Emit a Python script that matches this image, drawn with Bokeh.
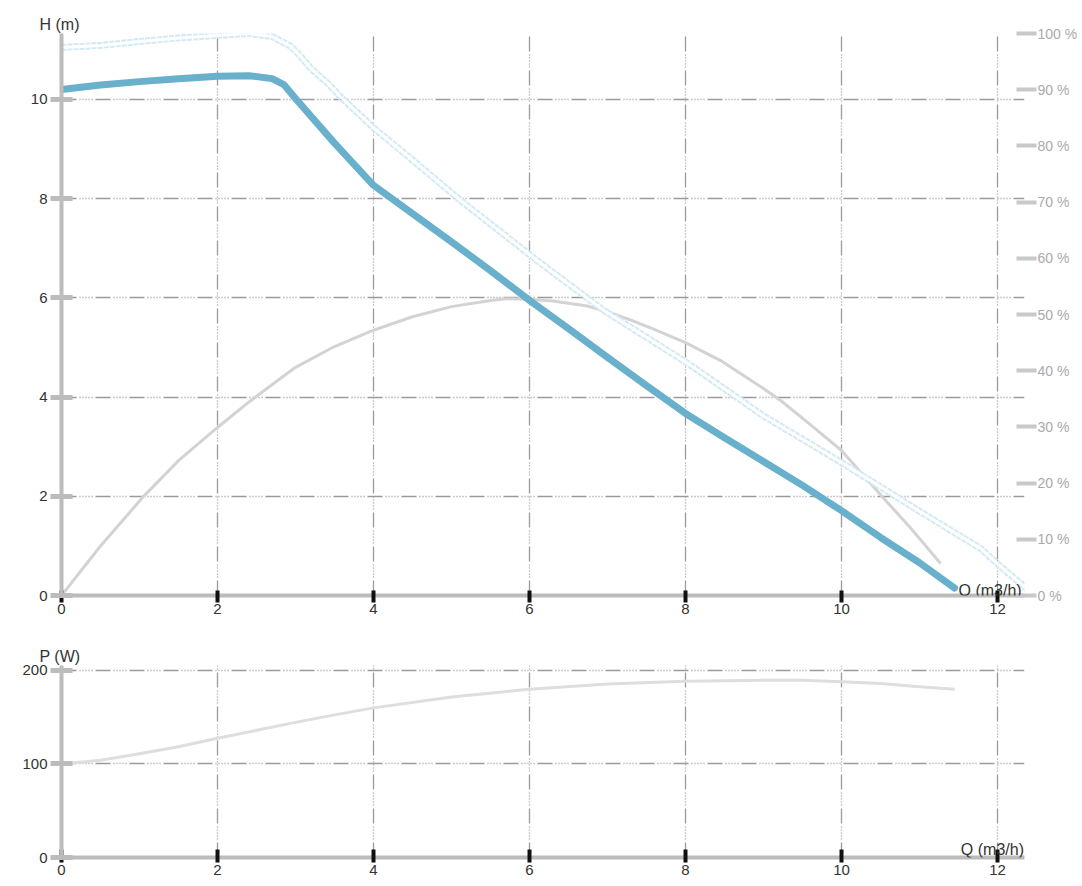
from bokeh.plotting import figure
from bokeh.models import Range1d, LinearAxis, Label, FixedTicker, Title
from bokeh.layouts import column
from bokeh.embed import file_html
from bokeh.resources import INLINE

# ---------------- data ----------------
q_ticks = [0, 2, 4, 6, 8, 10, 12]
h_ticks = [0, 2, 4, 6, 8, 10]
eta_ticks = [0, 10, 20, 30, 40, 50, 60, 70, 80, 90, 100]
eta_tick_labels = ["0 %", "10 %", "20 %", "30 %", "40 %", "50 %", "60 %", "70 %", "80 %", "90 %", "100 %"]
p_ticks = [0, 100, 200]

# pump head curve (blue)
q_head = [0, 0.5, 1, 1.5, 2, 2.4, 2.7, 2.85, 3.0, 3.5, 4, 4.5, 5, 5.5, 6, 6.5, 7,
          7.5, 8, 8.5, 9, 9.5, 10, 10.5, 11, 11.45]
h_head = [10.2, 10.29, 10.36, 10.42, 10.47, 10.48, 10.42, 10.3, 10.02, 9.12, 8.27, 7.7,
          7.13, 6.55, 5.95, 5.38, 4.8, 4.23, 3.67, 3.18, 2.7, 2.22, 1.71, 1.17, 0.66, 0.15]

# max-speed head curve (dotted light blue)
q_max = [0, 0.5, 1, 1.5, 2, 2.4, 2.7, 2.94, 3.06, 3.2, 3.41, 3.58, 4, 4.5, 5.12,
         6.1, 6.95, 8.03, 9, 10, 11, 11.78, 12.1, 12.42]
h_max = [11.05, 11.09, 11.17, 11.24, 11.29, 11.33, 11.27, 11.07, 10.88, 10.62, 10.33,
         10.05, 9.43, 8.78, 7.96, 6.75, 5.75, 4.68, 3.62, 2.68, 1.7, 0.95, 0.5, 0.08]

# efficiency curve (grey, %)
q_eta = [0, 0.5, 1.05, 1.5, 2, 2.4, 3, 3.5, 4, 4.5, 5, 5.5, 5.7, 6, 6.3, 6.74, 7.0,
         7.3, 7.59, 8, 8.45, 8.96, 9.22, 9.6, 10, 10.54, 10.88, 11.27]
eta = [0, 8.8, 17.6, 24.0, 29.9, 34.4, 40.6, 44.3, 47.2, 49.6, 51.4, 52.5, 52.8, 52.7,
       52.4, 51.5, 50.5, 49.0, 47.4, 45.0, 41.8, 37.2, 34.7, 30.4, 25.8, 17.3, 12.1, 5.7]

# power curve (grey, W)
q_pow = [0, 0.5, 1, 1.5, 2, 2.5, 3, 3.5, 4, 5, 6, 7, 8, 9, 9.5, 10, 10.5, 11, 11.45]
power = [100, 104, 111, 118.5, 127.5, 136, 144.5, 152.5, 160, 171.5, 180, 185.5, 188.5,
         189.5, 189.5, 188, 186, 182.5, 180]

# ---------------- styling helpers ----------------
FONT = "Liberation Sans"
TXT = "#333333"
AXIS_GREY = "#bcbcbc"
GRID_DASH = "15 3 1 2 1 2 1 2 1 2 1 3"

W = 1082
XR = (0, 12.346)


def style_common(p):
    p.outline_line_color = None
    p.background_fill_color = "white"
    p.border_fill_color = "white"
    for g in (p.xgrid, p.ygrid):
        g.grid_line_color = "#9a9a9a"
        g.grid_line_width = 1.3
        g.grid_line_dash = GRID_DASH
    p.xgrid.ticker = FixedTicker(ticks=q_ticks)
    xa = p.xaxis[0]
    xa.ticker = FixedTicker(ticks=q_ticks)
    xa.axis_line_color = AXIS_GREY
    xa.axis_line_width = 4
    xa.major_tick_line_color = "#111111"
    xa.major_tick_line_width = 4
    xa.minor_tick_line_color = None
    xa.major_label_text_font = FONT
    xa.major_label_text_font_size = "15px"
    xa.major_label_text_color = TXT
    ya = p.yaxis[0]
    ya.axis_line_color = AXIS_GREY
    ya.axis_line_width = 4
    ya.major_tick_line_color = AXIS_GREY
    ya.major_tick_line_width = 5
    ya.major_tick_in = 11
    ya.major_tick_out = 11
    ya.minor_tick_line_color = None
    ya.major_label_standoff = 3
    ya.major_label_text_font = FONT
    ya.major_label_text_font_size = "15px"
    ya.major_label_text_color = TXT


def corner_title(text):
    return Title(text=text, align="left", offset=-22, standoff=1,
                 text_font=FONT, text_font_size="16px", text_font_style="normal",
                 text_color=TXT)


# ---------------- top chart: H(Q) ----------------
p1 = figure(width=W, height=630, x_range=Range1d(*XR), y_range=Range1d(0, 11.33),
            output_backend="svg", toolbar_location=None,
            min_border_left=61, min_border_right=58, min_border_top=33, min_border_bottom=35)
p1.title = corner_title("H (m)")
p1.extra_y_ranges = {"eta": Range1d(0, 100)}
style_common(p1)
p1.yaxis[0].ticker = FixedTicker(ticks=h_ticks)
p1.ygrid.ticker = FixedTicker(ticks=h_ticks)
p1.xaxis[0].major_tick_in = 5
p1.xaxis[0].major_tick_out = 7
p1.xaxis[0].major_label_standoff = 1

ra = LinearAxis(y_range_name="eta", ticker=FixedTicker(ticks=eta_ticks),
                major_label_overrides={t: l for t, l in zip(eta_ticks, eta_tick_labels)})
ra.axis_line_color = None
ra.major_tick_line_color = "#c8c8c8"
ra.major_tick_line_width = 4
ra.major_tick_in = 8
ra.major_tick_out = 12
ra.minor_tick_line_color = None
ra.major_label_standoff = 1
ra.major_label_text_font = FONT
ra.major_label_text_font_size = "14px"
ra.major_label_text_color = "#aaaaaa"
p1.add_layout(ra, "right")

p1.line(q_eta, eta, y_range_name="eta", line_color="#d3d3d3", line_width=3,
        line_join="round")
p1.line(q_max, h_max, line_color="#d3eaf6", line_width=7, line_dash="5 1", line_join="round")
p1.line(q_max, h_max, line_color="#ffffff", line_width=3, line_join="round")
p1.line(q_head, h_head, line_color="#68b0cb", line_width=7, line_cap="round", line_join="round")

p1.add_layout(Label(x=11.5, y=0.1, text="Q (m3/h)", text_align="left", text_baseline="middle",
                    text_font=FONT, text_font_size="16px", text_color=TXT))

# ---------------- bottom chart: P(Q) ----------------
p2 = figure(width=W, height=256, x_range=Range1d(*XR), y_range=Range1d(0, 205.3),
            output_backend="svg", toolbar_location=None,
            min_border_left=61, min_border_right=58, min_border_top=35, min_border_bottom=29)
p2.title = corner_title("P (W)")
style_common(p2)
p2.yaxis[0].ticker = FixedTicker(ticks=p_ticks)
p2.ygrid.ticker = FixedTicker(ticks=p_ticks)
p2.xaxis[0].major_tick_in = 8
p2.xaxis[0].major_tick_out = 5
p2.xaxis[0].major_label_standoff = 2

p2.line(q_pow, power, line_color="#dedede", line_width=3, line_join="round")

p2.add_layout(Label(x=11.53, y=8.6, text="Q (m3/h)", text_align="left", text_baseline="middle",
                    text_font=FONT, text_font_size="16px", text_color=TXT))

layout = column(p1, p2, spacing=0)
open("out.html", "w").write(file_html(layout, INLINE))
